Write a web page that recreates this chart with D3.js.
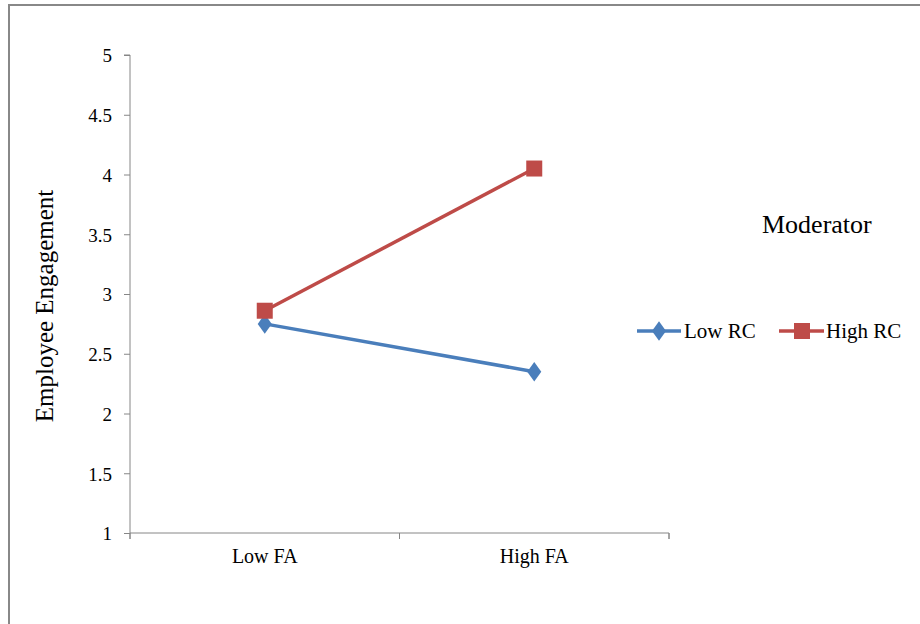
<!DOCTYPE html>
<html><head><meta charset="utf-8">
<script src="https://cdn.jsdelivr.net/npm/d3@7"></script>
<style>body{margin:0;background:#fff}svg{display:block}text{font-family:"Liberation Serif","Times New Roman",serif !important;fill:#000}</style>
</head><body><svg id="c" width="920" height="624"></svg>
<script>
const categories = ["Low FA", "High FA"];
const seriesNames = ["Low RC", "High RC"];
const lowRC = [2.75, 2.35];
const highRC = [2.86, 4.05];
const yTicks = [1, 1.5, 2, 2.5, 3, 3.5, 4, 4.5, 5];
const colors = ["#4A7EBB", "#BE4B48"];
const SERIF = '"Liberation Serif","Times New Roman",serif';

const svg = d3.select("#c");
svg.append("rect").attr("x", 9).attr("y", 5).attr("width", 920).attr("height", 640)
  .attr("fill", "#fff").attr("stroke", "#888").attr("stroke-width", 2);

const L = 130, R = 669, T = 55, B = 533;
const x = d3.scaleBand().domain(categories).range([L, R]);
const y = d3.scaleLinear().domain([1, 5]).range([B, T]);

const yAxis = svg.append("g").attr("transform", `translate(${L},0)`)
  .call(d3.axisLeft(y).tickValues(yTicks).tickFormat(d3.format("")).tickSize(6).tickPadding(12));
yAxis.attr("font-size", null).attr("font-family", SERIF);
yAxis.select(".domain").attr("stroke", "#868686").attr("d", `M-6,${T}H0V${B}`);
yAxis.selectAll(".tick line").attr("stroke", "#868686");
yAxis.selectAll(".tick text").style("font-size", "19px").style("font-family", SERIF).attr("dy", "0.36em");

const xAxis = svg.append("g").attr("transform", `translate(0,${B})`)
  .call(d3.axisBottom(x).tickSize(0).tickPadding(16));
xAxis.attr("font-size", null).attr("font-family", SERIF);
xAxis.select(".domain").attr("stroke", "#868686").attr("d", `M${L},6V0H${R}V6`);
xAxis.selectAll(".tick text").style("font-size", "20px").style("font-family", SERIF);
const bounds = [L, L + x.step(), R];
svg.append("g").selectAll("line").data(bounds).join("line")
  .attr("x1", d => d).attr("x2", d => d).attr("y1", B).attr("y2", B + 6)
  .attr("stroke", "#868686");

svg.append("text").attr("transform", `translate(53,${(T + B) / 2 + 12}) rotate(-90)`)
  .attr("text-anchor", "middle").style("font-size", "25px").style("font-family", SERIF).text("Employee Engagement");

const data = [lowRC, highRC];
const cx = c => x(c) + x.bandwidth() / 2;
const line = d3.line().x((d, i) => cx(categories[i])).y(d => y(d));
data.forEach((vals, s) => {
  svg.append("path").datum(vals).attr("d", line).attr("fill", "none")
    .attr("stroke", colors[s]).attr("stroke-width", 3.5);
});
const diamond = d3.symbol().type(d3.symbolDiamond).size(110);
svg.append("g").selectAll("path").data(lowRC).join("path")
  .attr("transform", (d, i) => `translate(${cx(categories[i])},${y(d)}) scale(1.25,1)`)
  .attr("d", diamond).attr("fill", colors[0]);
svg.append("g").selectAll("rect").data(highRC).join("rect")
  .attr("x", (d, i) => cx(categories[i]) - 8).attr("y", d => y(d) - 8)
  .attr("width", 16).attr("height", 16).attr("fill", colors[1]);

svg.append("text").attr("x", 762).attr("y", 233).style("font-size", "26px").style("font-family", SERIF).text("Moderator");
const legPos = [{x0: 637, x1: 681, m: 659, tx: 684}, {x0: 779, x1: 824, m: 802, tx: 826}];
seriesNames.forEach((n, s) => {
  const ly = 331, p = legPos[s];
  svg.append("line").attr("x1", p.x0).attr("x2", p.x1).attr("y1", ly).attr("y2", ly)
    .attr("stroke", colors[s]).attr("stroke-width", 3.5);
  if (s === 0) {
    svg.append("path").attr("transform", `translate(${p.m},${ly}) scale(1.25,1)`).attr("d", diamond).attr("fill", colors[s]);
  } else {
    svg.append("rect").attr("x", p.m - 8).attr("y", ly - 8).attr("width", 16).attr("height", 16).attr("fill", colors[s]);
  }
  svg.append("text").attr("x", p.tx).attr("y", ly + 7).style("font-size", "21px").style("font-family", SERIF).text(n);
});
</script></body></html>
